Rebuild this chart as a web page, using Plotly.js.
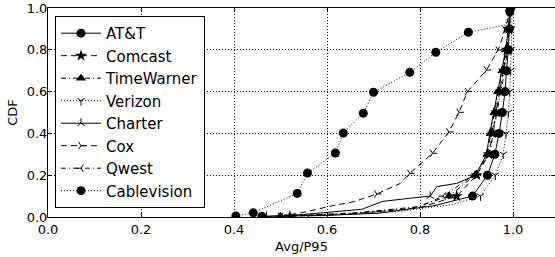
<!DOCTYPE html>
<html><head><meta charset="utf-8">
<script src="https://cdn.plot.ly/plotly-3.0.1.min.js"></script>
<style>html,body{margin:0;padding:0;background:#fff}#c{width:555px;height:257px}</style>
</head><body><div id="c"></div>
<script>
// Series names
const names = ['AT&T','Comcast','TimeWarner','Verizon','Charter','Cox','Qwest','Cablevision'];
const xTicks = [0.0,0.2,0.4,0.6,0.8,1.0];
const yTicks = [0.0,0.2,0.4,0.6,0.8,1.0];

// m = 1 where a marker is drawn on the CDF curve
const attX = [0.46,0.60,0.71,0.83,0.913,0.945,0.961,0.970,0.977,0.983,0.986,0.990,0.992,0.995];
const attY = [0.003,0.008,0.018,0.054,0.10,0.20,0.30,0.40,0.50,0.60,0.70,0.80,0.90,1.0];
const attM = [1,0,0,0,1,1,1,1,1,1,1,1,1,1];

const comX = [0.52,0.68,0.80,0.879,0.922,0.948,0.956,0.964,0.972,0.980,0.987,0.991,0.995];
const comY = [0.003,0.02,0.045,0.10,0.20,0.30,0.40,0.50,0.60,0.70,0.80,0.90,1.0];
const comM = [1,0,0,1,1,1,1,1,1,1,1,1,1];

const twX = [0.50,0.65,0.78,0.863,0.918,0.945,0.952,0.960,0.968,0.977,0.985,0.990,0.994];
const twY = [0.003,0.015,0.04,0.10,0.20,0.30,0.40,0.50,0.60,0.70,0.80,0.90,1.0];
const twM = [1,0,0,1,1,1,1,1,1,1,1,1,1];

const vzX = [0.56,0.75,0.87,0.93,0.962,0.979,0.985,0.990,0.993,0.995,0.996,0.997,0.998];
const vzY = [0.003,0.025,0.06,0.10,0.20,0.30,0.40,0.50,0.60,0.70,0.80,0.90,1.0];
const vzM = [1,0,0,1,1,1,1,1,1,1,1,1,1];

const chX = [0.47,0.55,0.675,0.72,0.80,0.822,0.836,0.879,0.920,0.943,0.950,0.958,0.967,0.976,0.984,0.990,0.994];
const chY = [0.003,0.012,0.037,0.075,0.095,0.10,0.145,0.161,0.20,0.30,0.40,0.50,0.60,0.70,0.80,0.90,1.0];
const chM = [1,0,0,0,0,1,0,0,1,1,1,1,1,1,1,1,1];

const coxX = [0.50,0.556,0.603,0.657,0.707,0.757,0.778,0.827,0.862,0.884,0.902,0.943,0.968,0.983,0.995];
const coxY = [0.003,0.025,0.05,0.073,0.11,0.16,0.209,0.305,0.407,0.501,0.60,0.703,0.799,0.895,1.0];
const coxM = [1,0,0,0,1,0,1,1,1,1,1,1,1,1,1];

const qwX = [0.50,0.66,0.80,0.850,0.915,0.950,0.957,0.965,0.974,0.982,0.988,0.992,0.996];
const qwY = [0.003,0.02,0.05,0.10,0.20,0.30,0.40,0.50,0.60,0.70,0.80,0.90,1.0];
const qwM = [1,0,0,1,1,1,1,1,1,1,1,1,1];

const cvX = [0.404,0.4415,0.536,0.558,0.618,0.635,0.678,0.700,0.778,0.834,0.904,0.983,0.993];
const cvY = [0.005,0.02,0.113,0.21,0.306,0.402,0.497,0.597,0.692,0.788,0.884,0.918,0.982];
const cvM = [1,1,1,1,1,1,1,1,1,1,1,0,1];

const data = [[attX,attY,attM],[comX,comY,comM],[twX,twY,twM],[vzX,vzY,vzM],
              [chX,chY,chM],[coxX,coxY,coxM],[qwX,qwY,qwM],[cvX,cvY,cvM]];
const styles = [
  {sym:'circle', dash:'solid', size:9, open:false},
  {sym:'star', dash:'6px,4px', size:9, open:false},
  {sym:'triangle-up', dash:'5px,3px,1px,3px', size:9, open:false},
  {sym:'y-down', dash:'1px,2px', size:6, open:true},
  {sym:'y-up', dash:'solid', size:6, open:true},
  {sym:'y-right', dash:'6px,4px', size:6, open:true},
  {sym:'y-left', dash:'5px,3px,1px,3px', size:6, open:true},
  {sym:'circle', dash:'1px,2px', size:9, open:false}
];

const traces = data.map((d,i) => {
  const s = styles[i];
  const col = d[2].map(v => v ? 'black' : 'rgba(0,0,0,0)');
  return {
    type:'scatter', mode:'lines+markers', name:names[i], x:d[0], y:d[1],
    line:{color:'black', width:1, dash:s.dash},
    marker:{symbol:s.sym, size:s.size, color:col, line:{color:col, width:s.open?1:0}}
  };
});

const font = {family:'DejaVu Sans', size:13, color:'black'};
const axisCommon = {
  showline:true, linecolor:'black', linewidth:1, mirror:'ticks',
  ticks:'inside', ticklen:4, tickcolor:'black', tickwidth:1,
  showgrid:true, gridcolor:'black', gridwidth:1, griddash:'1px,2px',
  zeroline:false, tickformat:'.1f', tickfont:font
};
const layout = {
  width:555, height:257,
  margin:{l:48, r:0, t:8, b:40},
  paper_bgcolor:'white', plot_bgcolor:'white',
  font:font,
  showlegend:true,
  xaxis:Object.assign({}, axisCommon, {range:[0,1.0903], tickvals:xTicks,
    title:{text:'Avg/P95', font:font, standoff:6}}),
  yaxis:Object.assign({}, axisCommon, {range:[0,1], tickvals:yTicks, ticklabelstandoff:-3,
    title:{text:'CDF', font:font, standoff:6}}),
  legend:{x:0.0138, y:0.962, xanchor:'left', yanchor:'top',
    bgcolor:'white', bordercolor:'black', borderwidth:1,
    font:{family:'DejaVu Sans', size:15, color:'black'}, itemwidth:40,
    traceorder:'normal'}
};
Plotly.newPlot('c', traces, layout, {displayModeBar:false, staticPlot:true});
</script></body></html>
